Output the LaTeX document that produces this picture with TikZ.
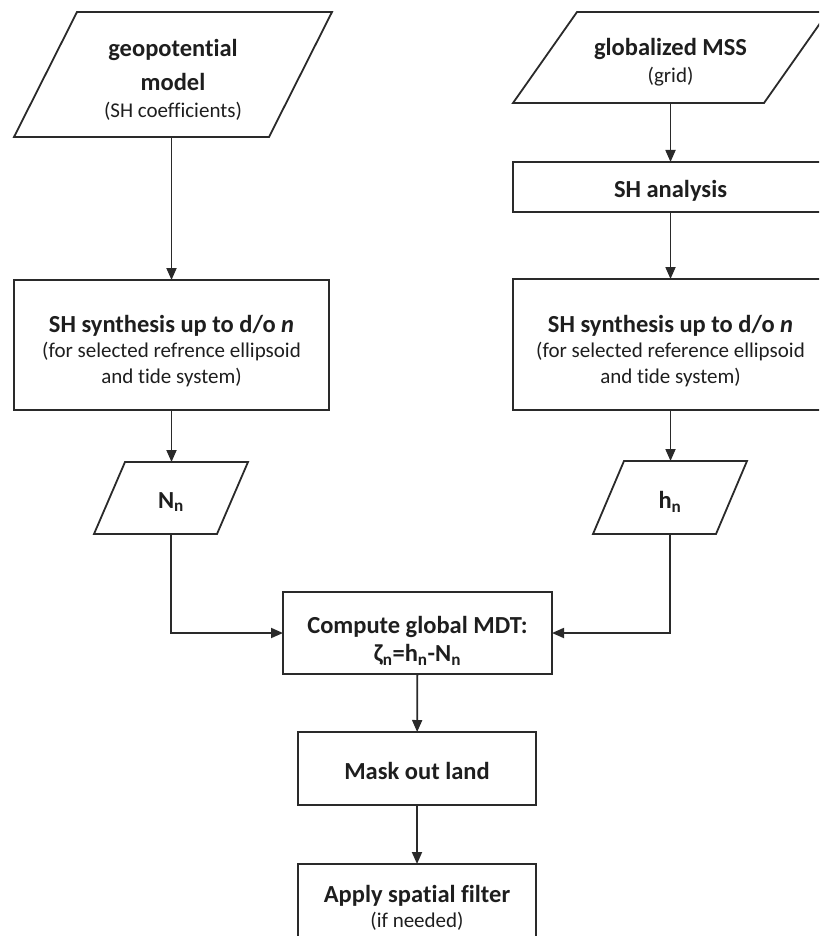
\documentclass[tikz,border=0pt]{standalone}
\usepackage{fontspec}
\setmainfont{Carlito}[Ligatures=NoCommon]
\usetikzlibrary{arrows.meta}
\definecolor{ink}{HTML}{1E1E1E}
\definecolor{edge}{HTML}{2A2A2A}
\newcommand{\ttl}[1]{{\fontsize{24.5}{26}\selectfont\bfseries #1}}
\begin{document}
\begin{tikzpicture}[x=1pt,y=-1pt,
  every node/.style={inner sep=0pt,outer sep=0pt,text=ink,align=center,
    font=\fontsize{21}{25.5}\selectfont},
  procbox/.style={draw=edge,line width=1.8pt},
  iobox/.style={},
  txt/.style={},
  outline/.style={draw=edge,line width=1.8pt,line join=miter},
  flow/.style={draw=edge,line width=1.8pt,-{Triangle[length=12pt,width=10pt]}}]
\useasboundingbox (0,0) rectangle (819,936);
\clip (0,0) rectangle (819,936);

% input shapes (parallelograms drawn from invisible nodes)
\node[iobox,minimum width=318pt,minimum height=125pt] (gm) at (173,74.5) {};
\node[txt] (gmT) at (173,80)
  {\ttl{geopotential}\\[8pt]\ttl{model}\\[2pt](SH coefficients)};
\node[iobox,minimum width=315pt,minimum height=91pt] (mss) at (670.5,57.5) {};
\node[txt] (mssT) at (670.5,62) {\ttl{globalized MSS}\\[2pt](grid)};
\node[iobox,minimum width=154pt,minimum height=72pt] (Nn) at (171,498) {};
\node[txt] (NnT) at (171,502) {\ttl{N\textsubscript{n}}};
\node[iobox,minimum width=154pt,minimum height=73pt] (hn) at (670,497.5) {};
\node[txt] (hnT) at (670,502) {\ttl{h\textsubscript{n}}};

\draw[outline] ([xshift=63pt]gm.north west) -- (gm.north east) -- ([xshift=-63pt]gm.south east) -- (gm.south west) -- cycle;
\draw[outline] ([xshift=64pt]mss.north west) -- (mss.north east) -- ([xshift=-64pt]mss.south east) -- (mss.south west) -- cycle;
\draw[outline] ([xshift=31pt]Nn.north west) -- (Nn.north east) -- ([xshift=-31pt]Nn.south east) -- (Nn.south west) -- cycle;
\draw[outline] ([xshift=31pt]hn.north west) -- (hn.north east) -- ([xshift=-31pt]hn.south east) -- (hn.south west) -- cycle;

% process boxes
\node[procbox,minimum width=315pt,minimum height=50pt] (sha) at (670.5,187) {};
\node[txt] (shaT) at (670.5,191) {\ttl{SH analysis}};
\node[procbox,minimum width=315pt,minimum height=130pt] (lsyn) at (171.5,345) {};
\node[txt] (lsynT) at (171.5,351)
  {\ttl{SH synthesis up to d/o \textit{n}}\\(for selected refrence ellipsoid\\and tide system)};
\node[procbox,minimum width=315pt,minimum height=131pt] (rsyn) at (670.5,344.5) {};
\node[txt] (rsynT) at (670.5,351)
  {\ttl{SH synthesis up to d/o \textit{n}}\\(for selected reference ellipsoid\\and tide system)};
\node[procbox,minimum width=269pt,minimum height=82pt] (mdt) at (417.5,633) {};
\node[txt] (mdtT) at (417.5,641)
  {\ttl{Compute global MDT:}\\[3pt]\ttl{ζ\textsubscript{n}=h\textsubscript{n}-N\textsubscript{n}}};
\node[procbox,minimum width=238pt,minimum height=73pt] (mask) at (417,768.5) {};
\node[txt] (maskT) at (417,771) {\ttl{Mask out land}};
\node[procbox,minimum width=238pt,minimum height=80pt] (filt) at (417,904) {};
\node[txt] (filtT) at (417,908) {\ttl{Apply spatial filter}\\(if needed)};

% connectors
\draw[flow] (gm.south -| lsyn.north) -- (lsyn.north);
\draw[flow] (mss.south -| sha.north) -- (sha.north);
\draw[flow] (sha) -- (rsyn);
\draw[flow] (lsyn.south) -- (lsyn.south |- Nn.north);
\draw[flow] (rsyn.south) -- (rsyn.south |- hn.north);
\draw[flow] (Nn.south) |- (mdt.west);
\draw[flow] (hn.south) |- (mdt.east);
\draw[flow] (mdt) -- (mask);
\draw[flow] (mask) -- (filt);
\end{tikzpicture}
\end{document}
